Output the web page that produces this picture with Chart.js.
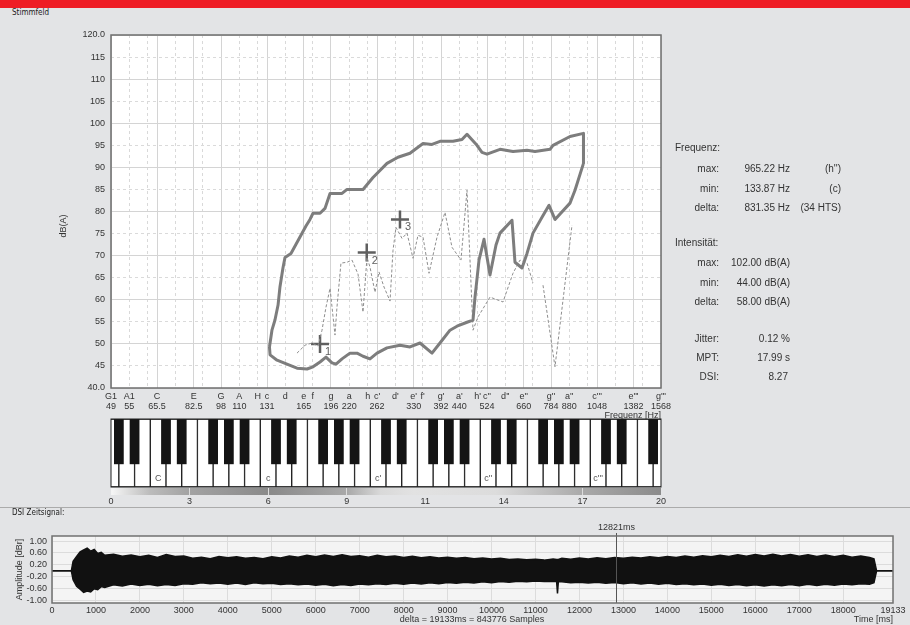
<!DOCTYPE html>
<html>
<head>
<meta charset="utf-8">
<script src="https://cdn.jsdelivr.net/npm/chart.js"></script>
<style>
  html, body { margin: 0; padding: 0; }
  body { width: 910px; height: 625px; background: #e3e4e6; position: relative; overflow: hidden;
         font-family: "Liberation Sans", Arial, sans-serif; color: #333; }
  .abs { position: absolute; }
  canvas { position: absolute; left: 0; }
  #band { left: 0; top: 0; width: 910px; height: 8px; background: #ee1d25; }
  .small { font-family: "DejaVu Sans Condensed", "Liberation Sans Narrow", sans-serif; font-size: 8px; line-height: 10px; color: #222; }
  .st { position: absolute; font-size: 10px; line-height: 12px; white-space: nowrap; color: #333; }
  .lab { left: 640px; width: 79px; text-align: right; }
  .val { left: 720px; width: 70px; text-align: right; }
  .note { left: 790px; width: 51px; text-align: right; }
  .head { left: 675px; }
  #sep { left: 0; top: 507px; width: 910px; height: 1px; background: #ababab; }
  #delta { left: 372px; top: 614px; width: 200px; text-align: center; font-size: 9px; line-height: 11px; }
</style>
</head>
<body>
<div id="band" class="abs"></div>
<div class="abs small" style="left:12px; top:8px;">Stimmfeld</div>

<canvas id="stimmfeld" width="700" height="430" style="top:0;"></canvas>
<canvas id="keyboard" width="910" height="70" style="top:418px;"></canvas>
<canvas id="dsiScale" width="910" height="26" style="top:484px;"></canvas>

<div class="st head" style="top:142px;">Frequenz:</div>
<div class="st lab" style="top:163px;">max:</div>
<div class="st val" style="top:163px;">965.22 Hz</div>
<div class="st note" style="top:163px;">(h'')</div>
<div class="st lab" style="top:183px;">min:</div>
<div class="st val" style="top:183px;">133.87 Hz</div>
<div class="st note" style="top:183px;">(c)</div>
<div class="st lab" style="top:202px;">delta:</div>
<div class="st val" style="top:202px;">831.35 Hz</div>
<div class="st note" style="top:202px;">(34 HTS)</div>

<div class="st head" style="top:237px;">Intensität:</div>
<div class="st lab" style="top:257px;">max:</div>
<div class="st val" style="top:257px;">102.00 dB(A)</div>
<div class="st lab" style="top:277px;">min:</div>
<div class="st val" style="top:277px;">44.00 dB(A)</div>
<div class="st lab" style="top:296px;">delta:</div>
<div class="st val" style="top:296px;">58.00 dB(A)</div>

<div class="st lab" style="top:333px;">Jitter:</div>
<div class="st val" style="top:333px;">0.12 %</div>
<div class="st lab" style="top:352px;">MPT:</div>
<div class="st val" style="top:352px;">17.99 s</div>
<div class="st lab" style="top:371px;">DSI:</div>
<div class="st val" style="top:371px; width:68px;">8.27</div>

<div id="sep" class="abs"></div>
<div class="abs small" style="left:12px; top:508px;">DSI Zeitsignal:</div>
<canvas id="signal" width="910" height="110" style="top:515px;"></canvas>
<div id="delta" class="abs">delta = 19133ms = 843776 Samples</div>

<script>
// Stimmfeld: Umriss (Hz / dB(A))
const contourFreq = [133.0, 135.1, 137.7, 140.4, 142.1, 144.8, 146.7, 152.3, 161.2, 167.4,
  171.7, 175.0, 182.9, 188.7, 194.8, 210.1, 216.8, 239.8, 255.4, 278.9,
  298.9, 322.4, 350.0, 370.4, 389.5, 422.8, 447.4, 461.8, 491.8, 507.5,
  523.8, 568.5, 617.0, 674.0, 708.8, 779.1, 794.0, 883.7, 962.0, 962.0,
  912.0, 883.7, 804.0, 774.2, 740.8, 699.9, 674.0, 653.1, 624.8, 613.2,
  568.5, 554.4, 533.8, 514.0, 498.1, 485.7, 479.6, 461.8, 433.6, 414.9,
  389.5, 370.4, 343.4, 322.4, 302.7, 278.9, 261.9, 250.6, 239.8, 230.9,
  220.9, 210.1, 202.3, 197.2, 189.9, 182.9, 175.0, 168.5, 158.2, 148.5,
  139.5, 133.5, 133.0];
const contourDb = [49.3, 53.1, 55.4, 58.8, 62.9, 67.2, 69.6, 70.5, 74.2, 76.7,
  78.2, 79.6, 79.6, 80.7, 84.1, 84.1, 85.0, 85.0, 87.7, 90.9,
  92.3, 93.2, 95.4, 95.2, 95.9, 95.9, 96.3, 97.5, 95.0, 93.4,
  93.0, 94.1, 93.6, 93.9, 93.6, 94.1, 95.0, 97.0, 97.7, 90.9,
  84.8, 81.9, 78.2, 81.4, 78.7, 75.1, 70.5, 67.2, 68.5, 78.0,
  75.1, 72.4, 65.6, 73.7, 69.0, 60.6, 55.4, 54.9, 54.0, 53.1,
  50.2, 47.9, 50.2, 49.3, 49.7, 49.1, 47.9, 46.6, 47.2, 47.9,
  47.9, 46.6, 45.4, 45.7, 47.0, 45.9, 44.8, 44.3, 44.5, 45.4,
  46.3, 47.5, 49.3];

// gestrichelte Kurve (Lücke = null)
const dashFreq = [158.2, 166.4, 173.9, 180.6, 185.2, 189.9, 194.8, 201.0, 203.5, 208.7,
  216.8, 223.7, 232.4, 239.8, 245.9, 250.6, 258.6, 265.2, 273.7, 284.3,
  289.7, 295.2, 306.6, 316.4, 328.6, 339.1, 350.0, 363.5, 382.3, 402.0,
  420.1, 444.6, 461.8, 479.6, 494.9, 533.8, 579.4, 617.0, 644.9, 674.0,
  699.9, null, 745.5, 804.0, 894.9];
const dashDb = [47.9, 49.7, 50.2, 49.5, 53.1, 58.3, 62.6, 52.0, 58.3, 68.3,
  68.5, 69.0, 65.8, 57.2, 69.6, 67.4, 61.7, 66.3, 62.9, 59.7,
  71.2, 76.4, 73.9, 75.1, 69.4, 74.6, 74.2, 66.0, 74.2, 79.8,
  71.9, 69.0, 84.8, 53.1, 56.1, 60.6, 59.5, 66.0, 69.0, 68.3,
  63.8, null, 63.3, 44.8, 76.9];

// Messpunkte 1..3
const markerFreq = [182.9, 245.5, 302.7];
const markerDb = [50.0, 70.7, 78.2];
const markerLabels = ['1', '2', '3'];

// Frequenzachse = weisse Tasten G1 .. g'''
const whiteKeyNames = ['G1', 'A1', 'H1', 'C', 'D', 'E', 'F', 'G', 'A', 'H',
  'c', 'd', 'e', 'f', 'g', 'a', 'h',
  "c'", "d'", "e'", "f'", "g'", "a'", "h'",
  "c''", "d''", "e''", "f''", "g''", "a''", "h''",
  "c'''", "d'''", "e'''", "f'''", "g'''"];
const noteFreqs = [49, 55, 61.7, 65.5, 73.4, 82.5, 87.3, 98, 110, 123.5,
  131, 147, 165, 174.6, 196, 220, 247,
  262, 294, 330, 349, 392, 440, 494,
  524, 588, 660, 698.5, 784, 880, 988,
  1048, 1175, 1318.5, 1397, 1568];
const noteLabels = ['G1', 'A1', '', 'C', '', 'E', '', 'G', 'A', 'H',
  'c', 'd', 'e', 'f', 'g', 'a', 'h',
  "c'", "d'", "e'", "f'", "g'", "a'", "h'",
  "c''", "d''", "e''", '', "g''", "a''", '',
  "c'''", '', "e'''", '', "g'''"];
const freqLabels = ['49', '55', '', '65.5', '', '82.5', '', '98', '110', '',
  '131', '', '165', '', '196', '220', '',
  '262', '', '330', '', '392', '440', '',
  '524', '', '660', '', '784', '880', '',
  '1048', '', '1382', '', '1568'];

// Klaviatur: schwarze Tasten zwischen weissen (Index der weissen Tasten)
const blackKeyPos = [0.5, 1.5, 3.5, 4.5, 6.5, 7.5, 8.5, 10.5, 11.5, 13.5, 14.5, 15.5,
  17.5, 18.5, 20.5, 21.5, 22.5, 24.5, 25.5, 27.5, 28.5, 29.5, 31.5, 32.5, 34.5];

// DSI Skala
const dsiTicks = [0, 3, 6, 9, 11, 14, 17, 20];
const dsiDividers = [3, 6, 9, 17];

// DSI Zeitsignal (Hüllkurve)
const timeMs = [0, 440, 480, 560, 640, 720, 800, 880, 960, 1040,
  1120, 1200, 1400, 1600, 1800, 2000, 2200, 2400, 2600, 2800,
  3000, 3200, 3400, 3600, 3800, 4000, 4200, 4400, 4600, 4800,
  5000, 5200, 5400, 5600, 5800, 6000, 6200, 6400, 6600, 6800,
  7000, 7200, 7400, 7600, 7800, 8000, 8200, 8400, 8600, 8800,
  9000, 9200, 9400, 9600, 9800, 10000, 10200, 10400, 10600, 10800,
  11000, 11200, 11400, 11480, 11500, 11520, 11600, 11800, 12000, 12200,
  12400, 12600, 12800, 13000, 13200, 13400, 13600, 13800, 14000, 14200,
  14400, 14600, 14800, 15000, 15200, 15400, 15600, 15800, 16000, 16200,
  16400, 16600, 16800, 17000, 17200, 17400, 17600, 17800, 18000, 18200,
  18400, 18600, 18700, 18760, 19133];
const ampUpper = [0, 0, 0.32, 0.48, 0.64, 0.70, 0.76, 0.66, 0.72, 0.58,
  0.62, 0.52, 0.56, 0.49, 0.53, 0.47, 0.52, 0.45, 0.55, 0.48,
  0.50, 0.42, 0.46, 0.41, 0.48, 0.44, 0.47, 0.42, 0.45, 0.41,
  0.47, 0.43, 0.50, 0.46, 0.52, 0.47, 0.53, 0.48, 0.54, 0.48,
  0.51, 0.46, 0.52, 0.47, 0.50, 0.45, 0.49, 0.44, 0.47, 0.43,
  0.46, 0.42, 0.45, 0.41, 0.43, 0.40, 0.42, 0.38, 0.40, 0.37,
  0.39, 0.36, 0.40, 0.38, 0.38, 0.38, 0.42, 0.39, 0.43, 0.40,
  0.44, 0.41, 0.45, 0.42, 0.46, 0.43, 0.47, 0.44, 0.48, 0.45,
  0.50, 0.46, 0.51, 0.47, 0.52, 0.48, 0.54, 0.49, 0.55, 0.50,
  0.56, 0.50, 0.55, 0.49, 0.54, 0.48, 0.53, 0.47, 0.52, 0.46,
  0.50, 0.45, 0.40, 0, 0];
const ampLower = [0, 0, -0.30, -0.52, -0.62, -0.72, -0.68, -0.71, -0.60, -0.63,
  -0.53, -0.56, -0.47, -0.51, -0.44, -0.49, -0.45, -0.50, -0.46, -0.49,
  -0.43, -0.45, -0.40, -0.43, -0.41, -0.45, -0.41, -0.46, -0.40, -0.43,
  -0.42, -0.46, -0.43, -0.47, -0.44, -0.48, -0.45, -0.50, -0.46, -0.49,
  -0.44, -0.47, -0.43, -0.46, -0.42, -0.45, -0.41, -0.44, -0.40, -0.43,
  -0.39, -0.42, -0.38, -0.41, -0.37, -0.40, -0.36, -0.38, -0.35, -0.37,
  -0.34, -0.36, -0.35, -0.36, -0.76, -0.36, -0.37, -0.40, -0.38, -0.41,
  -0.38, -0.42, -0.39, -0.43, -0.40, -0.44, -0.41, -0.45, -0.42, -0.46,
  -0.43, -0.47, -0.44, -0.48, -0.45, -0.49, -0.46, -0.50, -0.47, -0.51,
  -0.47, -0.50, -0.46, -0.50, -0.45, -0.49, -0.45, -0.48, -0.44, -0.47,
  -0.43, -0.45, -0.40, 0, 0];
const timeTicks = [0, 1000, 2000, 3000, 4000, 5000, 6000, 7000, 8000, 9000, 10000,
  11000, 12000, 13000, 14000, 15000, 16000, 17000, 18000, 19133];
const ampTicks = [-1, -0.6, -0.2, 0.2, 0.6, 1];
const markerTime = 12821;

Chart.defaults.font.family = '"Liberation Sans", Arial, sans-serif';
Chart.defaults.font.size = 9;
Chart.defaults.color = '#333';

const FONT = '"Liberation Sans", Arial, sans-serif';

// Plotfläche + Rahmen
const plotFrame = {
  id: 'plotFrame',
  beforeDraw(chart, args, opts) {
    const a = chart.chartArea;
    if (!opts.background) return;
    chart.ctx.save();
    chart.ctx.fillStyle = opts.background;
    chart.ctx.fillRect(a.left, a.top, a.right - a.left, a.bottom - a.top);
    chart.ctx.restore();
  },
  afterDraw(chart, args, opts) {
    const a = chart.chartArea;
    const c = chart.ctx;
    c.save();
    c.strokeStyle = opts.border || '#6e6e6e';
    c.lineWidth = opts.width || 1.5;
    c.strokeRect(a.left, a.top, a.right - a.left, a.bottom - a.top);
    c.restore();
  }
};

function isSolidNote(i) {
  const n = whiteKeyNames[i];
  return n ? 'CEGceg'.indexOf(n[0]) >= 0 : false;
}

// Beschriftung der Messpunkte und y-Titel
const stimmfeldText = {
  id: 'stimmfeldText',
  afterDatasetsDraw(chart) {
    const c = chart.ctx;
    const meta = chart.getDatasetMeta(2);
    c.save();
    c.fillStyle = '#5f5f5f';
    c.font = '11px ' + FONT;
    c.textAlign = 'center';
    c.textBaseline = 'middle';
    meta.data.forEach(function(pt, i) {
      c.fillText(markerLabels[i], pt.x + 8, pt.y + 8);
    });
    c.restore();
  },
  afterDraw(chart) {
    const c = chart.ctx;
    c.save();
    c.fillStyle = '#333';
    c.font = '9px ' + FONT;
    c.textAlign = 'center';
    c.textBaseline = 'middle';
    c.translate(64, 226);
    c.rotate(-Math.PI / 2);
    c.fillText('dB(A)', 0, 0);
    c.restore();
  }
};

new Chart(document.getElementById('stimmfeld'), {
  type: 'scatter',
  data: {
    datasets: [
      {
        label: 'Stimmfeld',
        data: contourFreq.map((f, i) => ({ x: f, y: contourDb[i] })),
        showLine: true,
        borderColor: '#7d7d7d',
        borderWidth: 3,
        borderJoinStyle: 'round',
        pointRadius: 0,
        tension: 0
      },
      {
        label: 'Kurve',
        data: dashFreq.map((f, i) => ({ x: f, y: dashDb[i] })),
        showLine: true,
        spanGaps: false,
        borderColor: '#8e8e8e',
        borderWidth: 1,
        borderDash: [3, 2],
        pointRadius: 0,
        tension: 0
      },
      {
        label: 'Marker',
        data: markerFreq.map((f, i) => ({ x: f, y: markerDb[i] })),
        pointStyle: 'cross',
        pointRadius: 9,
        borderWidth: 2.5,
        borderColor: '#5f5f5f',
        backgroundColor: '#5f5f5f'
      }
    ]
  },
  options: {
    responsive: false,
    animation: false,
    events: [],
    layout: { padding: { top: 35, right: 39, bottom: 9, left: 0 } },
    plugins: {
      legend: { display: false },
      tooltip: { enabled: false },
      plotFrame: { background: '#ffffff', border: '#6e6e6e', width: 1.5 }
    },
    scales: {
      x: {
        type: 'logarithmic',
        min: 49,
        max: 1568,
        afterBuildTicks: (scale) => { scale.ticks = noteFreqs.map(v => ({ value: v })); },
        afterFit: (scale) => { scale.height = 33; },
        grid: {
          drawTicks: false,
          color: (c) => isSolidNote(c.index) ? '#d4d4d4' : '#d9d9d9',
          lineWidth: 1
        },
        border: {
          display: false,
          dash: (c) => (c.tick && !isSolidNote(c.index)) ? [3, 3] : []
        },
        ticks: {
          autoSkip: false,
          maxRotation: 0,
          minRotation: 0,
          padding: 3,
          font: { size: 9, lineHeight: 1.15 },
          color: '#333',
          callback: (v, i) => [noteLabels[i], freqLabels[i]]
        },
        title: { display: true, text: 'Frequenz [Hz]', align: 'end', padding: 0, font: { size: 9 }, color: '#333' }
      },
      y: {
        min: 40,
        max: 120,
        afterFit: (scale) => { scale.width = 111; },
        grid: {
          drawTicks: false,
          color: (c) => (c.tick && c.tick.value % 10 === 0) ? '#d4d4d4' : '#dadada'
        },
        border: {
          display: false,
          dash: (c) => (c.tick && c.tick.value % 10 !== 0) ? [3, 3] : []
        },
        ticks: {
          stepSize: 5,
          autoSkip: false,
          padding: 6,
          font: { size: 9 },
          color: '#333',
          callback: (v) => (v === 120 || v === 40) ? v.toFixed(1) : String(v)
        }
      }
    }
  },
  plugins: [plotFrame, stimmfeldText]
});

// Klaviatur
const keyLabels = {
  id: 'keyLabels',
  afterDatasetsDraw(chart) {
    const c = chart.ctx;
    const meta = chart.getDatasetMeta(1);
    c.save();
    c.fillStyle = '#555';
    c.font = '9px ' + FONT;
    c.textAlign = 'center';
    c.textBaseline = 'middle';
    meta.data.forEach(function(bar, i) {
      const n = whiteKeyNames[i];
      if (n[0] === 'c' || n[0] === 'C') c.fillText(n, bar.x, chart.chartArea.bottom - 8);
    });
    c.restore();
  }
};

// 550 px Klaviaturbreite / 35 Tastenabstände
const whiteKeyWidth = 550 / 35;

new Chart(document.getElementById('keyboard'), {
  type: 'bar',
  data: {
    datasets: [
      {
        label: 'schwarz',
        data: blackKeyPos.map(p => ({ x: p, y: [0.34, 1] })),
        xAxisID: 'xb',
        backgroundColor: '#141414',
        borderWidth: 0,
        grouped: false,
        barThickness: whiteKeyWidth * 0.58,
        order: 0,
        clip: 0
      },
      {
        label: 'weiss',
        data: whiteKeyNames.map((n, i) => ({ x: i, y: [0, 1] })),
        xAxisID: 'x',
        backgroundColor: '#ffffff',
        borderColor: '#1e1e1e',
        borderWidth: 1,
        borderSkipped: false,
        grouped: false,
        barThickness: whiteKeyWidth,
        order: 1,
        clip: 0
      }
    ]
  },
  options: {
    responsive: false,
    animation: false,
    events: [],
    layout: { padding: { top: 1, bottom: 1, left: 111, right: 249 } },
    plugins: {
      legend: { display: false },
      tooltip: { enabled: false },
      plotFrame: { border: '#1e1e1e', width: 1 }
    },
    scales: {
      x: { type: 'linear', min: 0, max: 35, offset: false, display: false, grid: { offset: false } },
      xb: { type: 'linear', axis: 'x', min: 0, max: 35, offset: false, display: false, grid: { offset: false } },
      y: { type: 'linear', min: 0, max: 1, display: false }
    }
  },
  plugins: [plotFrame, keyLabels]
});

// DSI Farbskala
const dsiShade = [[0, '#f7f7f7'], [0.07, '#bcbcbc'], [0.14, '#a3a3a3'], [0.285, '#8a8a8a'],
  [0.3, '#8c8c8c'], [0.43, '#a9a9a9'], [0.49, '#d9d9d9'], [0.55, '#e2e2e2'],
  [0.7, '#dcdcdc'], [0.857, '#a9a9a9'], [1, '#8b8b8b']];

function dsiGradient(context) {
  const chart = context.chart;
  const area = chart.chartArea;
  if (!area) return '#aaaaaa';
  const g = chart.ctx.createLinearGradient(area.left, 0, area.right, 0);
  dsiShade.forEach(s => g.addColorStop(s[0], s[1]));
  return g;
}

new Chart(document.getElementById('dsiScale'), {
  type: 'bar',
  data: {
    labels: ['DSI'],
    datasets: [{
      data: [[0, dsiTicks.length - 1]],
      backgroundColor: dsiGradient,
      borderWidth: 0,
      barPercentage: 1,
      categoryPercentage: 1
    }]
  },
  options: {
    indexAxis: 'y',
    responsive: false,
    animation: false,
    events: [],
    layout: { padding: { top: 4, left: 111, right: 249, bottom: 0 } },
    plugins: { legend: { display: false }, tooltip: { enabled: false } },
    scales: {
      x: {
        type: 'linear',
        min: 0,
        max: dsiTicks.length - 1,
        afterBuildTicks: (scale) => { scale.ticks = dsiTicks.map((v, i) => ({ value: i })); },
        afterFit: (scale) => { scale.height = 15; },
        grid: {
          drawTicks: false,
          z: 1,
          color: (c) => (c.tick && dsiDividers.indexOf(dsiTicks[c.index]) >= 0) ? '#dcdcdc' : 'rgba(0,0,0,0)'
        },
        border: { display: false },
        ticks: {
          autoSkip: false,
          maxRotation: 0,
          padding: 1,
          font: { size: 9 },
          color: '#333',
          callback: (v, i) => String(dsiTicks[i])
        }
      },
      y: { display: false }
    }
  }
});

// Zeitsignal
const timeMarker = {
  id: 'timeMarker',
  afterDatasetsDraw(chart) {
    const c = chart.ctx;
    const a = chart.chartArea;
    const x = Math.round(chart.scales.x.getPixelForValue(markerTime)) + 0.5;
    c.save();
    c.strokeStyle = '#555';
    c.lineWidth = 1;
    c.beginPath();
    c.moveTo(x, a.top - 3);
    c.lineTo(x, a.bottom);
    c.stroke();
    c.fillStyle = '#333';
    c.font = '9px ' + FONT;
    c.textAlign = 'center';
    c.textBaseline = 'middle';
    c.fillText(markerTime + 'ms', x, a.top - 8);
    c.restore();
  }
};

new Chart(document.getElementById('signal'), {
  type: 'line',
  data: {
    datasets: [
      {
        label: 'max',
        data: timeMs.map((t, i) => ({ x: t, y: ampUpper[i] })),
        borderColor: '#111',
        backgroundColor: '#111',
        borderWidth: 1.5,
        pointRadius: 0,
        tension: 0,
        fill: '+1'
      },
      {
        label: 'min',
        data: timeMs.map((t, i) => ({ x: t, y: ampLower[i] })),
        borderColor: '#111',
        borderWidth: 1.5,
        pointRadius: 0,
        tension: 0,
        fill: false
      }
    ]
  },
  options: {
    responsive: false,
    animation: false,
    events: [],
    layout: { padding: { top: 21, right: 17, left: 0, bottom: 0 } },
    plugins: {
      legend: { display: false },
      tooltip: { enabled: false },
      plotFrame: { background: '#f4f4f4', border: '#707070', width: 1.5 }
    },
    scales: {
      x: {
        type: 'linear',
        min: 0,
        max: 19133,
        afterBuildTicks: (scale) => { scale.ticks = timeTicks.map(v => ({ value: v })); },
        afterFit: (scale) => { scale.height = 22; },
        grid: { drawTicks: false, color: '#dcdcdc' },
        border: { display: false },
        ticks: { autoSkip: false, maxRotation: 0, padding: 2, font: { size: 9 }, color: '#333', callback: (v) => String(v) },
        title: { display: true, text: 'Time [ms]', align: 'end', padding: 0, font: { size: 9 }, color: '#333' }
      },
      y: {
        min: -1.08,
        max: 1.17,
        afterBuildTicks: (scale) => { scale.ticks = ampTicks.map(v => ({ value: v })); },
        afterFit: (scale) => { scale.width = 52; },
        grid: { drawTicks: false, color: '#dcdcdc' },
        border: { display: false },
        ticks: { autoSkip: false, padding: 5, font: { size: 9 }, color: '#333', callback: (v) => v.toFixed(2) },
        title: { display: true, text: 'Amplitude [dBr]', padding: { top: 14, bottom: 0 }, font: { size: 9 }, color: '#333' }
      }
    }
  },
  plugins: [plotFrame, timeMarker]
});
</script>
</body>
</html>
